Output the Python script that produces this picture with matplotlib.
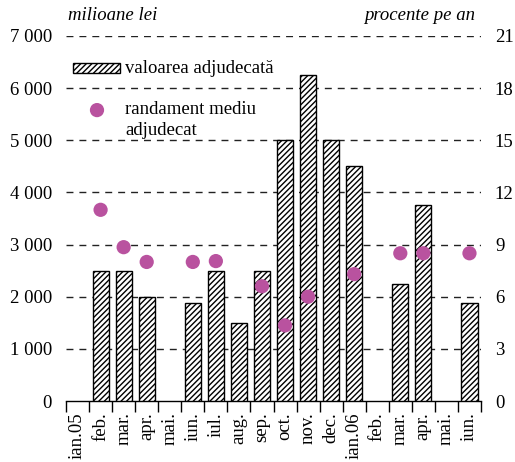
import matplotlib
matplotlib.use("Agg")
import matplotlib.pyplot as plt
from matplotlib.patches import Rectangle
import numpy as np

plt.rcParams['font.family'] = ['Liberation Serif', 'DejaVu Serif']
plt.rcParams['hatch.linewidth'] = 1.0

months = ['ian.05', 'feb.', 'mar.', 'apr.', 'mai.', 'iun.', 'iul.', 'aug.', 'sep.',
          'oct.', 'nov.', 'dec.', 'ian.06', 'feb.', 'mar.', 'apr.', 'mai.', 'iun.']
valoare = [np.nan, 2500, 2500, 2000, np.nan, 1870, 2500, 1500, 2500,
           5000, 6250, 5000, 4500, np.nan, 2250, 3750, np.nan, 1870]
randament = [np.nan, 11.0, 8.85, 8.0, np.nan, 8.0, 8.05, np.nan, 6.6,
             4.35, 6.0, np.nan, 7.3, np.nan, 8.5, 8.5, np.nan, 8.5]
left_ticks = [0, 1000, 2000, 3000, 4000, 5000, 6000, 7000]
left_labels = ['0', '1 000', '2 000', '3 000', '4 000', '5 000', '6 000', '7 000']
right_ticks = [0, 3, 6, 9, 12, 15, 18, 21]

FS = 13.5
MARKER_COLOR = '#B9529F'

fig = plt.figure(figsize=(5.15, 4.62), dpi=100)
ax = fig.add_axes([66/515, 1 - 401/462, 415/515, 365/462])
ax2 = ax.twinx()

x = np.arange(len(months))
ax.bar(x, valoare, width=0.7, facecolor='white', edgecolor='black',
       linewidth=1.0, hatch='//////', zorder=3)

ax.set_xlim(-0.5, len(months) - 0.5)
ax.set_ylim(0, 7000)
ax2.set_ylim(0, 21)

for v in left_ticks[1:]:
    ax.axhline(v, color='#222222', lw=1.0, dashes=(5, 4.3), zorder=1)

ax2.scatter(x, randament, s=105, color=MARKER_COLOR, edgecolors='none', zorder=5)
ax2.set_zorder(ax.get_zorder() + 1)
ax2.patch.set_visible(False)

for a in (ax, ax2):
    for s in ('top', 'left', 'right'):
        a.spines[s].set_visible(False)
ax2.spines['bottom'].set_visible(False)
ax.spines['bottom'].set_linewidth(1.0)

ax.set_yticks(left_ticks)
ax.set_yticklabels(left_labels, fontsize=FS)
ax.tick_params(axis='y', length=0, pad=10)
ax2.set_yticks(right_ticks)
ax2.set_yticklabels([str(t) for t in right_ticks], fontsize=FS)
ax2.tick_params(axis='y', length=0, pad=10)

ax.set_xticks(x)
ax.set_xticklabels(months, rotation=90, fontsize=FS, va='top', ha='center')
ax.set_xticks(np.arange(-0.5, len(months)), minor=True)
ax.tick_params(axis='x', which='major', length=0, pad=8)
ax.tick_params(axis='x', which='minor', length=8, width=1.0, direction='out')

# legend (manual)
ax.add_patch(Rectangle((0.0169, 0.899), 0.113, 0.0274, transform=ax.transAxes,
                       facecolor='white', edgecolor='black', lw=1.0,
                       hatch='//////', zorder=6, clip_on=False))
ax.text(0.142, 0.912, 'valoarea adjudecată', transform=ax.transAxes,
        fontsize=FS, va='center', ha='left', zorder=6)
ax2.scatter([0.0747], [0.797], s=105, color=MARKER_COLOR, edgecolors='none',
            transform=ax2.transAxes, clip_on=False, zorder=6)
ax2.text(0.142, 0.822, 'randament mediu\nadjudecat', transform=ax2.transAxes,
         fontsize=FS, va='top', ha='left', linespacing=1.3, zorder=6)

fig.text(68/515, 1 - 16/462, 'milioane lei', fontsize=FS, style='italic',
         ha='left', va='center')
fig.text(475/515, 1 - 16/462, 'procente pe an', fontsize=FS, style='italic',
         ha='right', va='center')

fig.savefig('out.png', dpi=100)
